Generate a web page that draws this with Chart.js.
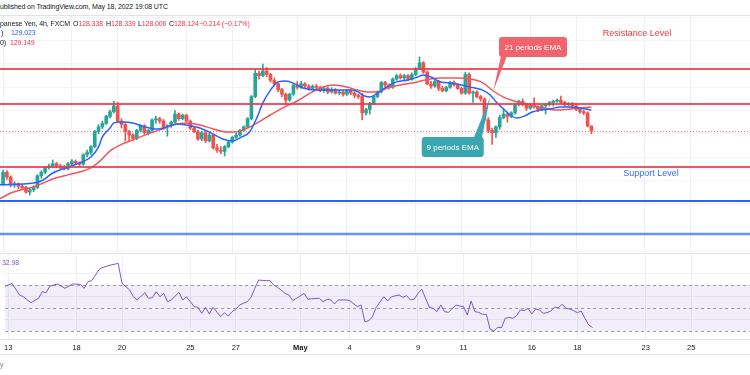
<!DOCTYPE html>
<html>
<head>
<meta charset="utf-8">
<script src="https://cdn.jsdelivr.net/npm/chart.js@4.4.0/dist/chart.umd.min.js"></script>
<style>
  body { margin: 0; background: #fff; width: 750px; height: 375px; overflow: hidden; position: relative;
         font-family: "Liberation Sans", Arial, sans-serif; }
  .t { position: absolute; white-space: nowrap; font-size: 7px; letter-spacing: -0.1px; line-height: 8px; color: #131722; }
  .red { color: #f23645; }
  .blue { color: #2962ff; }
  .sep { position: absolute; left: 0; width: 750px; height: 1px; background: #e0e3eb; }
  #main { position: absolute; left: 0; top: 16px; }
  #rsi { position: absolute; left: 0; top: 254px; }
</style>
</head>
<body>
<div class="t" style="left:0;top:3px">ublished on TradingView.com, May 18, 2022 19:08 UTC</div>
<div class="sep" style="top:15px"></div>
<canvas id="main" width="750" height="237"></canvas>
<div class="sep" style="top:253px"></div>
<canvas id="rsi" width="750" height="101"></canvas>
<div class="sep" style="top:339px"></div>
<div class="sep" style="top:354px"></div>

<div class="t" style="left:0;top:20px">panese Yen, 4h, FXCM</div>
<div class="t" style="left:73px;top:20px">O<span class="red">128.338</span></div>
<div class="t" style="left:106px;top:20px">H<span class="red">128.339</span></div>
<div class="t" style="left:138px;top:20px">L<span class="red">128.006</span></div>
<div class="t" style="left:169px;top:20px">C<span class="red">128.124</span></div>
<div class="t red" style="left:199px;top:20px">−0.214 (−0.17%)</div>
<div class="t" style="left:1px;top:29px">)</div>
<div class="t blue" style="left:11px;top:29px">129.023</div>
<div class="t" style="left:0;top:39px">0)</div>
<div class="t red" style="left:10px;top:39px">129.149</div>
<div class="t" style="left:2px;top:259px;color:#7e57c2">32.98</div>
<div class="t" style="left:0;top:361px;color:#787b86">y</div>

<script>
// 4h candles, one slot per candle, Apr 13 00:00 = slot 0 (trading days only)
const opens = [
  125.85,126.35,126.15,125.80,125.85,125.75,125.70,125.50,125.60,125.70,126.20,126.35,
  126.55,126.62,126.72,126.62,126.58,126.50,126.72,126.82,126.75,126.70,127.10,127.20,
  127.45,128.10,128.30,128.45,128.75,128.95,129.20,128.55,128.40,128.10,127.95,127.80,
  128.15,128.35,128.05,128.15,128.60,128.65,128.55,128.30,128.35,128.50,128.85,128.65,
  128.80,128.55,128.25,128.10,127.78,128.05,127.70,127.95,127.40,127.30,127.25,127.45,
  127.65,127.85,127.95,128.15,128.30,128.65,129.60,130.60,130.50,130.70,130.55,130.30,
  130.15,129.90,129.70,129.45,129.70,130.10,130.00,130.15,130.05,129.95,130.05,130.00,
  129.85,129.95,129.80,129.90,129.75,129.80,129.70,129.85,129.75,129.65,129.60,128.90,
  129.05,129.30,129.60,129.80,130.20,130.10,130.00,130.35,130.50,130.40,130.50,130.35,
  130.55,130.80,131.05,130.65,130.15,130.05,130.25,129.95,129.85,130.00,130.20,130.10,
  129.95,129.75,130.55,129.75,129.80,129.60,129.50,128.60,128.15,128.05,128.30,128.70,
  128.85,128.75,128.90,129.25,129.40,129.25,129.10,129.25,129.15,129.05,129.20,129.25,
  129.35,129.40,129.45,129.35,129.25,129.30,129.20,129.05,128.95,128.90,128.338
];
const highs = [
  126.45,126.42,126.20,125.95,125.90,125.82,125.75,125.65,125.78,126.25,126.42,126.60,
  126.70,126.88,126.78,126.70,126.65,126.78,126.90,126.88,126.80,127.15,127.30,127.50,
  128.15,128.40,128.55,128.80,129.02,129.40,129.35,128.65,128.45,128.15,128.00,128.20,
  128.40,128.40,128.20,128.65,128.75,128.72,128.62,128.40,128.55,129.00,128.90,128.85,
  128.85,128.60,128.30,128.15,128.12,128.10,128.02,128.00,127.55,127.45,127.50,127.70,
  127.90,128.02,128.20,128.35,128.70,129.65,130.75,130.70,131.00,130.85,130.60,130.40,
  130.20,129.95,129.75,129.75,130.15,130.25,130.25,130.20,130.12,130.10,130.12,130.05,
  130.00,130.00,129.98,129.95,129.88,129.85,129.90,129.92,129.80,129.72,129.75,129.10,
  129.35,129.65,129.85,130.25,130.25,130.15,130.40,130.55,130.58,130.55,130.55,130.62,
  130.85,131.30,131.10,130.70,130.25,130.30,130.30,130.05,130.05,130.25,130.28,130.15,
  130.00,130.65,130.62,129.85,129.85,129.65,129.55,128.70,128.25,128.35,128.80,129.10,
  128.90,128.95,129.30,129.45,129.50,129.30,129.30,129.55,129.20,129.25,129.30,129.40,
  129.45,129.50,129.62,129.40,129.35,129.35,129.28,129.12,129.02,128.95,128.339
];
const lows = [
  125.80,126.05,125.72,125.70,125.65,125.60,125.45,125.38,125.52,125.65,126.10,126.28,
  126.48,126.55,126.55,126.50,126.45,126.45,126.65,126.68,126.62,126.65,127.02,127.12,
  127.40,128.00,128.22,128.40,128.68,128.90,128.50,128.25,127.70,127.70,127.72,127.75,
  128.08,127.98,127.95,128.10,128.45,128.45,128.20,127.90,128.28,128.45,128.58,128.60,
  128.50,128.18,128.05,127.72,127.70,127.62,127.65,127.35,127.20,127.15,127.05,127.40,
  127.60,127.80,127.90,128.10,128.25,128.60,129.55,130.35,130.45,130.45,130.22,130.05,
  129.80,129.60,129.25,129.40,129.65,129.92,129.95,129.95,129.88,129.88,129.90,129.80,
  129.78,129.72,129.75,129.70,129.68,129.62,129.65,129.68,129.55,129.52,128.60,128.80,
  128.85,129.25,129.55,129.75,130.00,129.92,129.95,130.30,130.35,130.32,130.28,130.30,
  130.50,130.75,130.60,130.10,129.95,130.00,129.85,129.80,129.80,129.95,130.05,129.90,
  129.70,129.70,129.70,129.35,129.55,129.40,128.55,128.05,127.55,127.85,128.20,128.65,
  128.50,128.70,128.85,129.20,129.20,129.00,129.05,129.10,128.95,129.00,128.85,129.20,
  129.20,129.35,129.30,129.18,129.20,129.10,129.00,128.88,128.82,128.30,128.006
];
const closes = [
  126.35,126.15,125.80,125.85,125.75,125.70,125.50,125.60,125.70,126.20,126.35,126.55,
  126.62,126.72,126.62,126.58,126.50,126.72,126.82,126.75,126.70,127.10,127.20,127.45,
  128.10,128.30,128.45,128.75,128.95,129.20,128.55,128.40,128.10,127.95,127.80,128.15,
  128.35,128.05,128.15,128.60,128.65,128.55,128.30,128.35,128.50,128.85,128.65,128.80,
  128.55,128.25,128.10,127.78,128.05,127.70,127.95,127.40,127.30,127.25,127.45,127.65,
  127.85,127.95,128.15,128.30,128.65,129.60,130.60,130.50,130.70,130.55,130.30,130.15,
  129.90,129.70,129.45,129.70,130.10,130.00,130.15,130.05,129.95,130.05,130.00,129.85,
  129.95,129.80,129.90,129.75,129.80,129.70,129.85,129.75,129.65,129.60,128.90,129.05,
  129.30,129.60,129.80,130.20,130.10,130.00,130.35,130.50,130.40,130.50,130.35,130.55,
  130.80,131.05,130.65,130.15,130.05,130.25,129.95,129.85,130.00,130.20,130.10,129.95,
  129.75,130.55,129.75,129.80,129.60,129.50,128.60,128.15,128.05,128.30,128.70,128.85,
  128.75,128.90,129.25,129.40,129.25,129.10,129.25,129.15,129.05,129.20,129.25,129.35,
  129.40,129.45,129.35,129.25,129.30,129.20,129.05,128.95,128.90,128.338,128.124
];

// EMA readings [slot, price]
const ema9 = [
  [-1,125.81],[8,125.89],[10.5,126.02],[13,126.32],[17,126.58],[20,126.75],[23,127.01],
  [25,127.44],[26,127.87],[28,128.25],[29,128.47],[31,128.51],[34,128.47],[37,128.30],
  [40,128.21],[43,128.30],[45.5,128.42],[48,128.38],[51.5,128.25],[55,127.99],[57.5,127.78],
  [60,127.69],[62.5,127.87],[64.5,128.08],[66.5,128.72],[68,129.33],[70,129.88],[72,130.23],
  [74,130.27],[76,130.18],[78.5,129.97],[82,129.88],[86.5,129.88],[91,129.88],[93,129.80],
  [94,129.67],[96,129.58],[98,129.75],[100,129.97],[103,130.23],[106,130.31],[108.5,130.44],
  [110,130.53],[112,130.44],[114.5,130.23],[117.5,130.18],[121,130.06],[123.5,129.97],
  [125.5,129.88],[127.5,129.67],[129.3,129.33],[131,129.07],[132.7,128.81],[134.5,128.68],
  [136.5,128.77],[138.5,128.94],[140.5,129.02],[143,129.07],[146,129.15],[148.5,129.15],
  [151,129.11],[152.6,129.07],[154,129.023]
];
const ema21 = [
  [-1,125.20],[2,125.46],[4.5,125.59],[8,125.72],[10.5,125.89],[13,126.06],[17,126.24],
  [20,126.36],[23,126.54],[25.4,126.84],[28,127.27],[30.6,127.52],[34,127.74],[37.7,127.99],
  [41,128.17],[44.5,128.38],[48,128.47],[51.5,128.38],[55,128.21],[58.6,128.08],[61,128.08],
  [64,128.25],[66.5,128.47],[69,128.72],[71.7,128.98],[74.3,129.20],[77,129.41],[80.4,129.75],
  [83.8,130.01],[86.4,130.10],[90,130.01],[92.7,129.88],[95.3,129.80],[98,129.80],
  [100.5,129.97],[104,130.10],[108.4,130.23],[111.8,130.36],[115,130.40],[119,130.40],
  [122,130.36],[125.7,130.18],[128.3,129.84],[131,129.58],[134.6,129.37],[138,129.24],
  [141.4,129.11],[145,129.02],[148.4,129.07],[151,129.11],[154,129.149]
];

// RSI (14) readings [slot, value]
const rsi = [
  [-1,68.5],[1,71.5],[3,61.3],[4,59.8],[6,54.6],[8,58.4],[9,64.2],[10,63.3],[11,69.1],
  [13,70.9],[15,67.1],[17,70.9],[19,70.6],[20,67.1],[21,72.9],[22,73.8],[24,83.6],[25,85.4],
  [27,87.4],[29,88.8],[30,71.5],[32,65.7],[33,59.8],[34,57.0],[36,63.3],[37,58.4],[38,59.0],
  [39,64.2],[40,59.8],[41,62.7],[42,55.5],[43,57.0],[45,63.6],[46,57.0],[47,59.8],[48,55.5],
  [49,51.2],[50,50.6],[51,45.4],[52,50.6],[53,44.8],[54,50.6],[56,42.4],[57,45.9],[58,43.0],
  [59,46.8],[60,48.8],[61,52.6],[63,55.5],[64,59.3],[65,67.1],[66,74.3],[68,73.8],[69,73.8],
  [70,70.0],[71,68.0],[73,62.7],[74,61.3],[75,56.4],[76,58.4],[78,62.7],[79,57.5],[80,58.1],
  [82,58.4],[83,55.5],[84,57.5],[85,57.0],[86,53.5],[87,57.0],[89,57.0],[90,56.4],[92,51.2],
  [93,52.6],[94,38.1],[95,38.7],[96,42.4],[97,50.6],[99,59.8],[100,56.1],[101,59.8],[103,61.3],
  [104,59.3],[105,60.7],[106,57.0],[107,57.8],[108,62.7],[109,66.3],[111,50.6],[112,49.7],
  [113,46.8],[114,52.6],[115,46.8],[116,46.2],[118,52.6],[119,51.7],[120,51.2],[121,43.9],
  [122,56.1],[123,46.8],[124,46.2],[125,44.5],[126,44.5],[127,31.7],[128,30.0],[129,33.2],
  [130,32.9],[131,41.0],[132,41.9],[133,41.0],[134,43.3],[135,48.3],[136,47.7],[137,49.7],
  [138,44.8],[139,49.1],[140,48.3],[141,45.4],[142,45.9],[143,47.4],[144,50.6],[145,50.3],
  [146,53.2],[147,49.7],[148,49.1],[149,47.7],[150,45.9],[151,47.4],[152,41.0],[153,35.2],
  [154,32.98]
];

// time axis: slot of first candle of the labelled day
const tickSlots = [0, 18, 30, 48, 60, 77, 90, 108, 120, 138, 150, 168, 180];
const tickLabels = ['13', '18', '20', '25', '27', 'May', '4', '9', '11', '16', '18', '23', '25'];

// drawn levels
const resistanceLevels = [130.785, 129.283, 126.579];
const supportLevels = [125.12, 123.70];
const gridPrices = [123, 124, 125, 126, 127, 128, 129, 130, 131, 132, 133];
const rsiBands = [70, 50, 30];

const GREEN = '#26a69a', RED = '#ef5350';
const FONT = '"Liberation Sans", Arial, sans-serif';

const notes = [
  { text: '21 periods EMA', slot: 138.7, price: 131.73, tipSlot: 128.3, tipPrice: 129.84, w: 68, color: '#f2636e', tail: 'bottom' },
  { text: '9 periods EMA', slot: 117.7, price: 127.44, tipSlot: 127.5, tipPrice: 129.58, w: 62, color: '#3aa6b0', tail: 'top' }
];
const labels = [
  { text: 'Resistance Level', slot: 165.9, price: 132.29, color: '#f23645' },
  { text: 'Support Level', slot: 169.6, price: 126.28, color: '#3a6ff2' }
];

const candleColor = ctx => closes[ctx.dataIndex] >= opens[ctx.dataIndex] ? GREEN : RED;

function timeScale(showLabels) {
  return {
    type: 'linear', min: -0.8, max: 195.5, offset: false,
    afterBuildTicks: s => { s.ticks = tickSlots.map(v => ({ value: v })); },
    afterFit: s => { if (showLabels) s.height = 16; },
    grid: { color: '#eef0f5', drawTicks: false, offset: false },
    border: { display: false },
    ticks: {
      display: showLabels, autoSkip: false, maxRotation: 0, padding: 4, color: '#131722',
      font: ctx => ({ family: FONT, size: 7.5, weight: ctx.tick && ctx.tick.value === 77 ? 'bold' : 'normal' }),
      callback: v => tickLabels[tickSlots.indexOf(v)]
    }
  };
}

const levelPlugin = {
  id: 'levels',
  beforeDatasetsDraw(chart) {
    const { ctx, chartArea: a, scales: { y } } = chart;
    const py = Math.round(y.getPixelForValue(closes[closes.length - 1])) + 0.5;
    ctx.save();
    ctx.strokeStyle = 'rgba(242,54,69,0.7)';
    ctx.lineWidth = 1;
    ctx.setLineDash([1, 2]);
    ctx.beginPath(); ctx.moveTo(a.left, py); ctx.lineTo(a.right, py); ctx.stroke();
    ctx.restore();
  },
  afterDatasetsDraw(chart) {
    const { ctx, chartArea: a, scales: { y } } = chart;
    ctx.save();
    const line = (p, color, w) => {
      const py = Math.round(y.getPixelForValue(p));
      ctx.strokeStyle = color; ctx.lineWidth = w;
      ctx.beginPath(); ctx.moveTo(a.left, py); ctx.lineTo(a.right, py); ctx.stroke();
    };
    resistanceLevels.forEach(p => line(p, 'rgba(242,54,69,0.85)', 2));
    line(supportLevels[0], '#2962ff', 2);
    line(supportLevels[1], 'rgba(41,98,255,0.7)', 2.5);
    ctx.restore();
  },
  afterDraw(chart) {
    const { ctx, scales: { x, y } } = chart;
    ctx.save();
    notes.forEach(n => {
      const cx = x.getPixelForValue(n.slot), cy = y.getPixelForValue(n.price);
      const tx = x.getPixelForValue(n.tipSlot), ty = y.getPixelForValue(n.tipPrice);
      const h = 20, l = cx - n.w / 2, t = cy - h / 2;
      ctx.fillStyle = n.color;
      ctx.beginPath();
      if (n.tail === 'bottom') { ctx.moveTo(l + 2, t + h - 1); ctx.lineTo(l + 8, t + h - 1); }
      else { ctx.moveTo(l + n.w - 10, t + 1); ctx.lineTo(l + n.w - 2, t + 1); }
      ctx.lineTo(tx, ty);
      ctx.closePath(); ctx.fill();
      ctx.beginPath(); ctx.roundRect(l, t, n.w, h, 3); ctx.fill();
      ctx.fillStyle = '#fff';
      ctx.font = '8px ' + FONT;
      ctx.textAlign = 'center'; ctx.textBaseline = 'middle';
      ctx.fillText(n.text, cx, cy + 0.5);
    });
    labels.forEach(lb => {
      ctx.fillStyle = lb.color;
      ctx.font = '9px ' + FONT;
      ctx.textAlign = 'center'; ctx.textBaseline = 'middle';
      ctx.fillText(lb.text, x.getPixelForValue(lb.slot), y.getPixelForValue(lb.price));
    });
    ctx.restore();
  }
};

new Chart(document.getElementById('main'), {
  type: 'bar',
  data: {
    datasets: [
      { type: 'line', data: ema9.map(([s, v]) => ({ x: s, y: v })), borderColor: '#2962ff', borderWidth: 1.5,
        pointRadius: 0, cubicInterpolationMode: 'monotone', order: 0 },
      { type: 'line', data: ema21.map(([s, v]) => ({ x: s, y: v })), borderColor: '#f4545a', borderWidth: 1.5,
        pointRadius: 0, cubicInterpolationMode: 'monotone', order: 1 },
      { data: opens.map((o, i) => ({ x: i, y: [o, closes[i]] })), backgroundColor: candleColor,
        barThickness: 3, minBarLength: 1, grouped: false, order: 2 },
      { data: lows.map((l, i) => ({ x: i, y: [l, highs[i]] })), backgroundColor: candleColor,
        barThickness: 1, grouped: false, order: 3 }
    ]
  },
  options: {
    responsive: false, animation: false,
    layout: { padding: 0 },
    plugins: { legend: { display: false }, tooltip: { enabled: false } },
    scales: {
      x: timeScale(false),
      y: {
        min: 122.887, max: 133.059,
        afterBuildTicks: s => { s.ticks = gridPrices.map(v => ({ value: v })); },
        grid: { color: '#f3f4f8', drawTicks: false },
        border: { display: false },
        ticks: { display: false }
      }
    }
  },
  plugins: [levelPlugin]
});

const rsiPlugin = {
  id: 'rsiBand',
  beforeDatasetsDraw(chart) {
    const { ctx, chartArea: a, scales: { y } } = chart;
    ctx.save();
    const top = y.getPixelForValue(rsiBands[0]), bot = y.getPixelForValue(rsiBands[2]);
    ctx.fillStyle = 'rgba(126,87,194,0.1)';
    ctx.fillRect(a.left, top, a.right - a.left, bot - top);
    ctx.strokeStyle = '#9598a1';
    ctx.lineWidth = 1;
    ctx.setLineDash([3, 3]);
    rsiBands.forEach(v => {
      const py = Math.round(y.getPixelForValue(v)) + 0.5;
      ctx.beginPath(); ctx.moveTo(a.left, py); ctx.lineTo(a.right, py); ctx.stroke();
    });
    ctx.restore();
  }
};

new Chart(document.getElementById('rsi'), {
  type: 'line',
  data: {
    datasets: [
      { data: rsi.map(([s, v]) => ({ x: s, y: v })), borderColor: '#7e57c2', borderWidth: 1,
        pointRadius: 0, tension: 0 }
    ]
  },
  options: {
    responsive: false, animation: false,
    layout: { padding: 0 },
    plugins: { legend: { display: false }, tooltip: { enabled: false } },
    scales: {
      x: timeScale(true),
      y: {
        min: 23, max: 97,
        afterBuildTicks: s => { s.ticks = [40, 60, 80].map(v => ({ value: v })); },
        grid: { color: '#f0f1f6', drawTicks: false },
        border: { display: false },
        ticks: { display: false }
      }
    }
  },
  plugins: [rsiPlugin]
});
</script>
</body>
</html>
